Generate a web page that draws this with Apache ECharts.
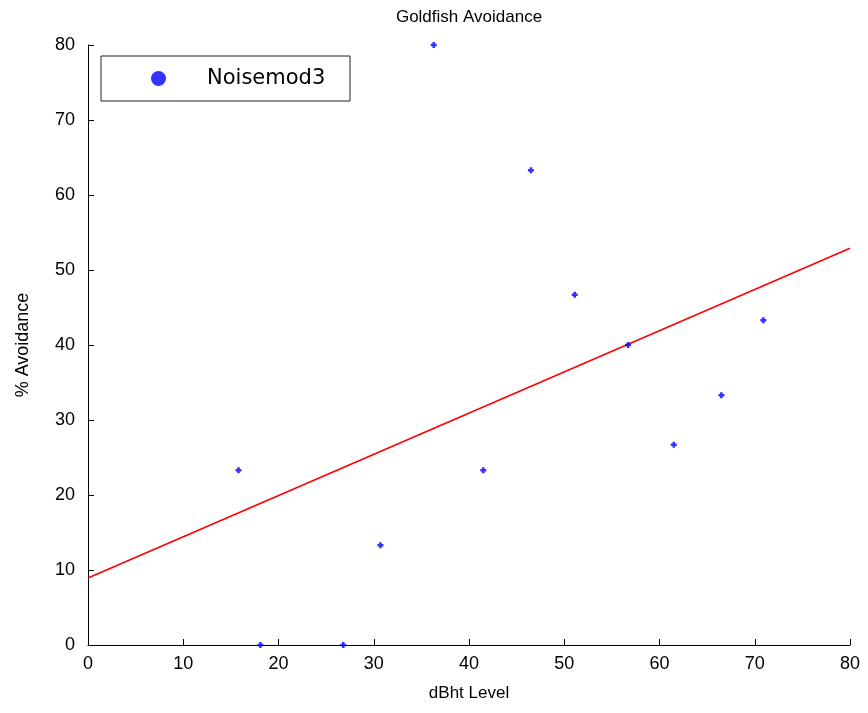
<!DOCTYPE html>
<html>
<head>
<meta charset="utf-8">
<script src="https://cdn.jsdelivr.net/npm/echarts@6/dist/echarts.min.js"></script>
<style>
  html, body { margin: 0; padding: 0; background: #fff; }
  #chart { width: 868px; height: 713px; }
</style>
</head>
<body>
<div id="chart"></div>
<script>
// Measured sound level (dBht) and the share of fish that avoided it
const dbhtLevel = [15.8, 18.1, 26.8, 30.7, 36.3, 41.5, 46.5, 51.1, 56.7, 61.5, 66.5, 70.9];
const avoidancePct = [23.3, 0, 0, 13.3, 80, 23.3, 63.3, 46.7, 40, 26.7, 33.3, 43.3];

// Least-squares trend line end points
const fitX = [0, 80];
const fitY = [8.93, 52.9];

const xTicks = [0, 10, 20, 30, 40, 50, 60, 70, 80];
const yTicks = [0, 10, 20, 30, 40, 50, 60, 70, 80];

const seriesName = 'Noisemod3';
const font = 'Liberation Sans, Arial, sans-serif';

const chart = echarts.init(document.getElementById('chart'), null, { renderer: 'canvas' });

// bold plus marker
const plus = 'path://M2,0H5V2H7V5H5V7H2V5H0V2H2Z';

chart.setOption({
  animation: false,
  backgroundColor: '#ffffff',
  title: {
    text: 'Goldfish Avoidance',
    left: 469,
    top: 9,
    padding: 0,
    textAlign: 'center',
    textStyle: { fontFamily: font, fontSize: 17, fontWeight: 'normal', color: '#000' }
  },
  legend: {
    left: 101,
    top: 56,
    orient: 'horizontal',
    data: [{ name: seriesName, icon: 'circle', itemStyle: { color: '#0000ff' } }],
    itemWidth: 15,
    itemHeight: 15,
    padding: [11, 15, 11, 50],
    borderColor: '#222',
    borderWidth: 1,
    backgroundColor: '#fff',
    selectedMode: false,
    textStyle: {
      fontFamily: 'DejaVu Sans, sans-serif', fontSize: 21, color: '#000',
      lineHeight: 23, width: 128, padding: [0, 0, 0, 36]
    }
  },
  grid: { left: 88, right: 18, top: 45, bottom: 68, containLabel: false },
  xAxis: {
    type: 'value',
    min: xTicks[0],
    max: xTicks[xTicks.length - 1],
    interval: xTicks[1] - xTicks[0],
    name: 'dBht Level',
    nameLocation: 'middle',
    nameGap: 40,
    nameTextStyle: { fontFamily: font, fontSize: 17, color: '#000' },
    axisLine: { show: true, onZero: false, lineStyle: { color: '#000', width: 1 } },
    axisTick: { show: true, inside: false, length: -6, lineStyle: { color: '#000' } },
    axisLabel: { fontFamily: font, fontSize: 18, color: '#000', margin: 10 },
    splitLine: { show: false }
  },
  yAxis: {
    type: 'value',
    min: yTicks[0],
    max: yTicks[yTicks.length - 1],
    interval: yTicks[1] - yTicks[0],
    name: '% Avoidance',
    nameLocation: 'middle',
    nameGap: 56,
    nameTextStyle: { fontFamily: font, fontSize: 18, color: '#000' },
    axisLine: { show: true, onZero: false, lineStyle: { color: '#000', width: 1 } },
    axisTick: { show: true, inside: false, length: -6, lineStyle: { color: '#000' } },
    axisLabel: { fontFamily: font, fontSize: 18, color: '#000', margin: 13 },
    splitLine: { show: false }
  },
  series: [
    {
      name: seriesName,
      type: 'scatter',
      symbol: plus,
      symbolSize: 6,
      itemStyle: { color: '#0000ff' },
      data: dbhtLevel.map((x, i) => [x, avoidancePct[i]]),
      z: 3
    },
    {
      name: 'fit',
      type: 'line',
      symbol: 'none',
      lineStyle: { color: '#ff0000', width: 1.6 },
      data: fitX.map((x, i) => [x, fitY[i]]),
      z: 2
    }
  ]
});
</script>
</body>
</html>
